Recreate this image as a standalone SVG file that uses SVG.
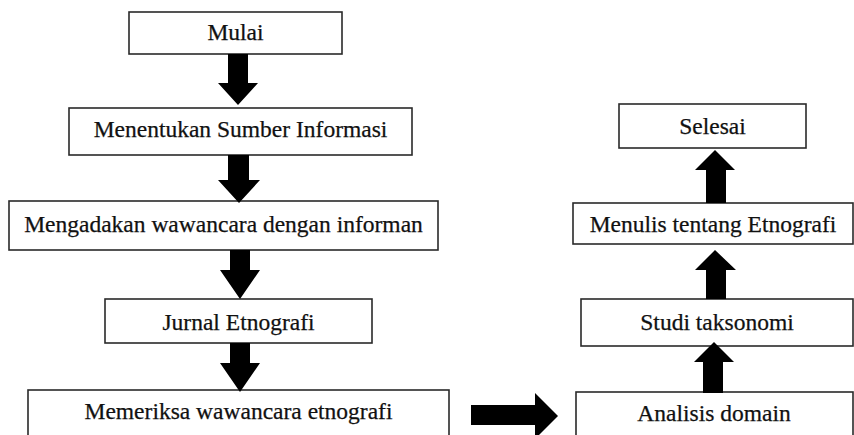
<svg xmlns="http://www.w3.org/2000/svg" width="854" height="435" viewBox="0 0 854 435">
<style>
.box{fill:#fff;stroke:#2a2a2a;stroke-width:1.6}
.t{font-family:'Liberation Serif','Times New Roman',serif;font-size:23.5px;fill:#111;stroke:#111;stroke-width:0.25;text-anchor:middle}
.arr{fill:#000}
</style>
<rect width="854" height="435" fill="#fff"/>
<g id="n-mulai"><rect class="box" x="129" y="12" width="213" height="42"/><text class="t" x="235.5" y="40">Mulai</text></g>
<g id="n-sumber"><rect class="box" x="69" y="108" width="343" height="47"/><text class="t" x="240.5" y="137">Menentukan Sumber Informasi</text></g>
<g id="n-wawancara"><rect class="box" x="9" y="201" width="429" height="49"/><text class="t" x="223.5" y="232">Mengadakan wawancara dengan informan</text></g>
<g id="n-jurnal"><rect class="box" x="105" y="299" width="267" height="44"/><text class="t" x="238.5" y="330">Jurnal Etnografi</text></g>
<g id="n-memeriksa"><rect class="box" x="28" y="390" width="421" height="46"/><text class="t" x="238.5" y="419">Memeriksa wawancara etnografi</text></g>
<g id="n-selesai"><rect class="box" x="619" y="104" width="187" height="44"/><text class="t" x="712.5" y="134">Selesai</text></g>
<g id="n-menulis"><rect class="box" x="573" y="203" width="280" height="41"/><text class="t" x="713" y="232">Menulis tentang Etnografi</text></g>
<g id="n-studi"><rect class="box" x="581" y="299" width="272" height="47"/><text class="t" x="717" y="330">Studi taksonomi</text></g>
<g id="n-analisis"><rect class="box" x="576" y="392" width="277" height="46"/><text class="t" x="714" y="421">Analisis domain</text></g>
<g id="connectors">
<polygon class="arr" points="228,54 248,54 248,83 258,83 238,105 218,83 228,83"/>
<polygon class="arr" points="228,155 249,155 249,180 260,180 239,203 218,180 228,180"/>
<polygon class="arr" points="230,250 250,250 250,270 260,270 240,299 220,270 230,270"/>
<polygon class="arr" points="230,343 250,343 250,363 260,363 240,392 220,363 230,363"/>
<polygon class="arr" points="471,405 535,405 535,393 558,416 535,439 535,425 471,425"/>
<polygon class="arr" points="703,393 723,393 723,362 734,362 714,342 694,362 703,362"/>
<polygon class="arr" points="706,299 726,299 726,270 736,270 715,250 695,270 706,270"/>
<polygon class="arr" points="706,203 726,203 726,170 735,170 715,150 695,170 706,170"/>
</g>
</svg>
